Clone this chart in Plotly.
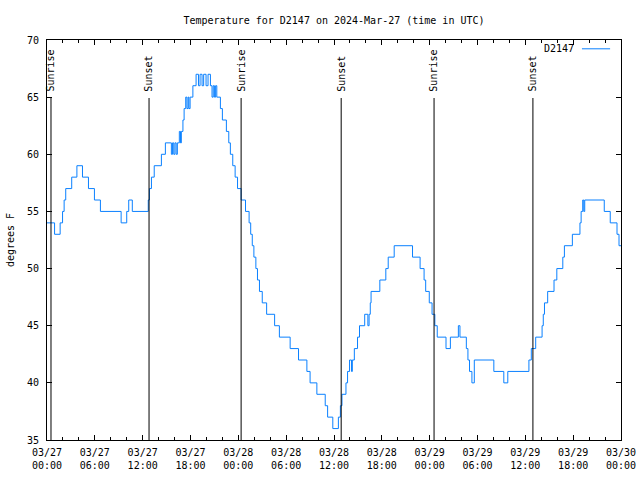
import plotly.graph_objects as go

# Temperature change points (hours since 2024-03-27 00:00 UTC, degrees F)
hours = [0.0, 0.95, 1.65, 1.95, 2.15, 2.35, 3.1, 3.75, 4.45, 5.2, 5.95, 6.7, 9.3, 10.0, 10.25, 10.7,
         12.7, 12.85, 13.1, 13.45, 14.35, 14.85, 15.6, 15.75, 15.9, 16.05, 16.2, 16.35, 16.6, 16.75,
         16.85, 17.05, 17.2, 17.4, 17.55, 17.7, 17.8, 17.95, 18.3, 18.7, 19.0, 19.2, 19.45, 19.65,
         19.95, 20.2, 20.5, 20.7, 20.85, 21.0, 21.15, 21.3, 21.75, 22.0, 22.5, 22.8, 23.0, 23.3,
         23.6, 23.9, 24.35, 24.9, 25.35, 25.55, 25.75, 25.95, 26.2, 26.4, 26.65, 27.0, 27.55, 28.55,
         29.15, 30.5, 31.55, 32.6, 33.0, 33.85, 34.9, 35.2, 35.85, 36.55, 36.8, 37.0, 37.5, 37.7,
         37.95, 38.2, 38.3, 38.55, 38.95, 39.2, 39.85, 40.25, 40.4, 40.55, 40.65, 41.75, 42.5, 42.8,
         43.55, 45.85, 46.8, 47.3, 47.5, 47.95, 48.3, 48.65, 48.95, 50.05, 50.6, 51.6, 51.8, 52.6,
         52.8, 53.0, 53.3, 53.6, 56.05, 57.3, 57.8, 60.45, 60.75, 61.3, 62.1, 62.25, 62.4, 62.8,
         63.6, 63.95, 64.7, 64.9, 65.9, 66.85, 67.0, 67.2, 67.33, 67.45, 69.9, 70.65, 71.5, 71.75, 72.0]
temps = [54, 53, 54, 55, 56, 57, 58, 59, 58, 57, 56, 55, 54, 55, 56, 55,
         56, 57, 58, 59, 60, 61, 60, 61, 60, 61, 60, 61, 62, 61,
         62, 63, 64, 65, 64, 65, 64, 65, 66, 67, 66, 67, 66, 67,
         66, 67, 66, 65, 66, 65, 66, 65, 64, 63, 62, 61, 60, 59,
         58, 57, 56, 55, 54, 53, 52, 51, 50, 49, 48, 47, 46, 45,
         44, 43, 42, 41, 40, 39, 38, 37, 36, 37, 38, 39, 40, 41,
         42, 41, 42, 43, 44, 45, 46, 45, 46, 47, 48, 49, 50, 51,
         52, 51, 50, 49, 48, 47, 46, 45, 44, 43, 44, 45, 44, 43,
         42, 41, 40, 42, 41, 40, 41, 42, 43, 44, 45, 46, 47, 48,
         49, 50, 51, 52, 53, 54, 55, 56, 55, 56, 55, 54, 53, 52, 52]

# Sunrise / sunset events (hours since start)
event_hours = [0.5, 12.8, 24.35, 36.9, 48.55, 60.95]
event_labels = ["Sunrise", "Sunset", "Sunrise", "Sunset", "Sunrise", "Sunset"]

tick_hours = [0, 6, 12, 18, 24, 30, 36, 42, 48, 54, 60, 66, 72]
tick_labels = ["03/27<br>00:00", "03/27<br>06:00", "03/27<br>12:00", "03/27<br>18:00",
               "03/28<br>00:00", "03/28<br>06:00", "03/28<br>12:00", "03/28<br>18:00",
               "03/29<br>00:00", "03/29<br>06:00", "03/29<br>12:00", "03/29<br>18:00",
               "03/30<br>00:00"]
series_name = "D2147"
line_color = "#0A80FF"

FONT = "DejaVu Sans Mono"

fig = go.Figure()
fig.add_trace(go.Scatter(x=hours, y=temps, mode="lines", name=series_name,
                         line=dict(color=line_color, width=1, shape="hv"),
                         showlegend=False))

shapes = []
annotations = []
for h, lab in zip(event_hours, event_labels):
    shapes.append(dict(type="line", xref="x", yref="paper", x0=h, x1=h, y0=0, y1=0.855,
                       line=dict(color="black", width=1)))
    annotations.append(dict(text=lab, x=h, xref="x", y=0.866, yref="paper", textangle=-90,
                            xanchor="center", yanchor="bottom", showarrow=False,
                            font=dict(family=FONT, size=10, color="black")))

# key (gnuplot-style: text then sample line)
annotations.append(dict(text=series_name, x=0.921, xref="paper", y=0.978, yref="paper",
                        xanchor="right", yanchor="middle", showarrow=False,
                        font=dict(family=FONT, size=10, color="black")))
shapes.append(dict(type="line", xref="paper", yref="paper", x0=0.932, x1=0.981, y0=0.978, y1=0.978,
                   line=dict(color=line_color, width=1)))

fig.update_layout(
    width=640, height=480,
    margin=dict(l=47, r=19, t=40, b=40, pad=0),
    paper_bgcolor="white", plot_bgcolor="white",
    font=dict(family=FONT, size=10, color="black"),
    title=dict(text="Temperature for D2147 on 2024-Mar-27 (time in UTC)",
               x=0.5, xref="paper", y=1 - 20 / 480, yanchor="middle", xanchor="center",
               font=dict(family=FONT, size=10, color="black")),
    shapes=shapes, annotations=annotations,
    xaxis=dict(range=[0, 72], tickmode="array", tickvals=tick_hours, ticktext=tick_labels,
               ticks="inside", ticklen=5, tickcolor="black", showline=True, linecolor="black",
               linewidth=1, mirror="allticks", showgrid=False, zeroline=False,
               automargin=False, ticklabelstandoff=3,
               minor=dict(tickmode="linear", tick0=0, dtick=2, ticks="inside", ticklen=3,
                          tickcolor="black", showgrid=False)),
    yaxis=dict(range=[35, 70], tickmode="linear", tick0=35, dtick=5,
               ticks="inside", ticklen=5, tickcolor="black", showline=True, linecolor="black",
               linewidth=1, mirror="allticks", showgrid=False, zeroline=False,
               automargin=False, ticklabelstandoff=5,
               title=dict(text="degrees F", standoff=10, font=dict(family=FONT, size=10))),
)

fig.write_html("out.html", config={"displayModeBar": False},
               post_script="document.body.style.margin='0';")
